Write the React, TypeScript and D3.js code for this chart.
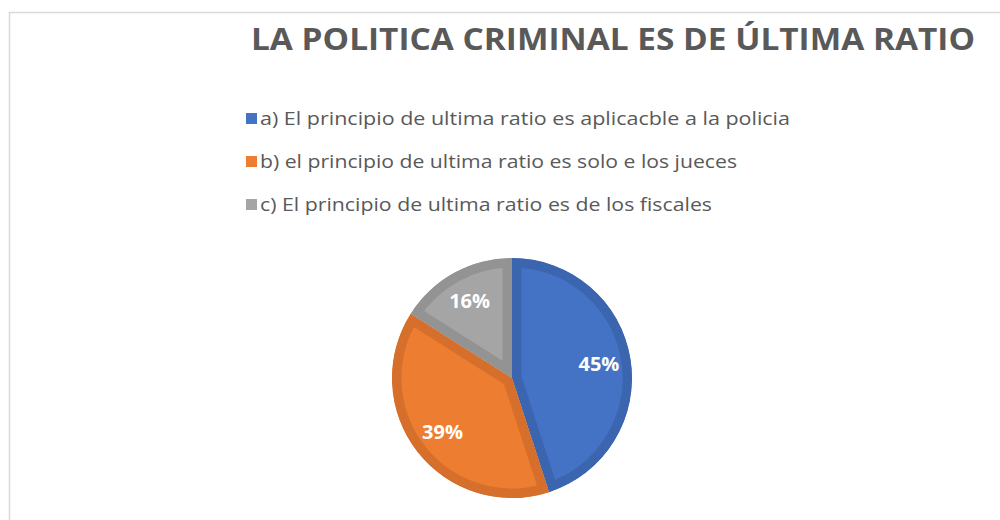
import React from "react";
import * as d3 from "d3";

const title = "LA POLITICA CRIMINAL ES DE ÚLTIMA RATIO";
const categories = [
  "a) El principio de ultima ratio es aplicacble a la policia",
  "b) el principio de ultima ratio es solo e los jueces",
  "c) El principio de ultima ratio es de los fiscales",
];
const values = [45, 39, 16];
const labels = ["45%", "39%", "16%"];
const fills = ["#4472C4", "#ED7D31", "#A5A5A5"];
const borders = ["#3C65B0", "#D56F2B", "#939393"];
const legendWidths = [530, 477, 452];

export default function App() {
  const W = 1000, H = 520;
  const cx = 512, cy = 378, r = 120;
  const pie = d3.pie<number>().sort(null).value((d) => d)(values);
  const arc = d3.arc<d3.PieArcDatum<number>>().innerRadius(0).outerRadius(r);
  const labelArc = d3.arc<d3.PieArcDatum<number>>().innerRadius(88).outerRadius(88);
  return (
    <svg width={W} height={H} style={{ position: "absolute", left: 0, top: 0, background: "#fff" }}>
      <rect x={9.5} y={12.5} width={W + 10} height={H + 10} fill="#fff" stroke="#d9d9d9" strokeWidth={1.5} />
      <text x={613} y={50} textAnchor="middle" fontFamily="'Open Sans', sans-serif" fontWeight={700}
        fontSize={30} fill="#595959" textLength={724} lengthAdjust="spacingAndGlyphs">{title}</text>
      {categories.map((c, i) => (
        <g key={c} transform={`translate(0, ${i * 43})`}>
          <rect x={246} y={113} width={11} height={11} fill={fills[i]} />
          <text x={260} y={124.5} fontFamily="'Open Sans', sans-serif" fontSize={19} fill="#595959"
            textLength={legendWidths[i]} lengthAdjust="spacingAndGlyphs">{c}</text>
        </g>
      ))}
      <defs>
        {pie.map((p, i) => (
          <clipPath id={`clip${i}`} key={i}>
            <path d={arc(p) || ""} />
          </clipPath>
        ))}
      </defs>
      <g transform={`translate(${cx},${cy})`}>
        {pie.map((p, i) => (
          <path key={i} d={arc(p) || ""} fill={fills[i]} stroke={borders[i]} strokeWidth={19}
            clipPath={`url(#clip${i})`} />
        ))}
        {pie.map((p, i) => {
          const [x, y] = labelArc.centroid(p);
          return (
            <text key={i} x={x} y={y} dy="0.35em" textAnchor="middle" fontFamily="'Open Sans', sans-serif"
              fontWeight={700} fontSize={20} fill="#fff">{labels[i]}</text>
          );
        })}
      </g>
    </svg>
  );
}
